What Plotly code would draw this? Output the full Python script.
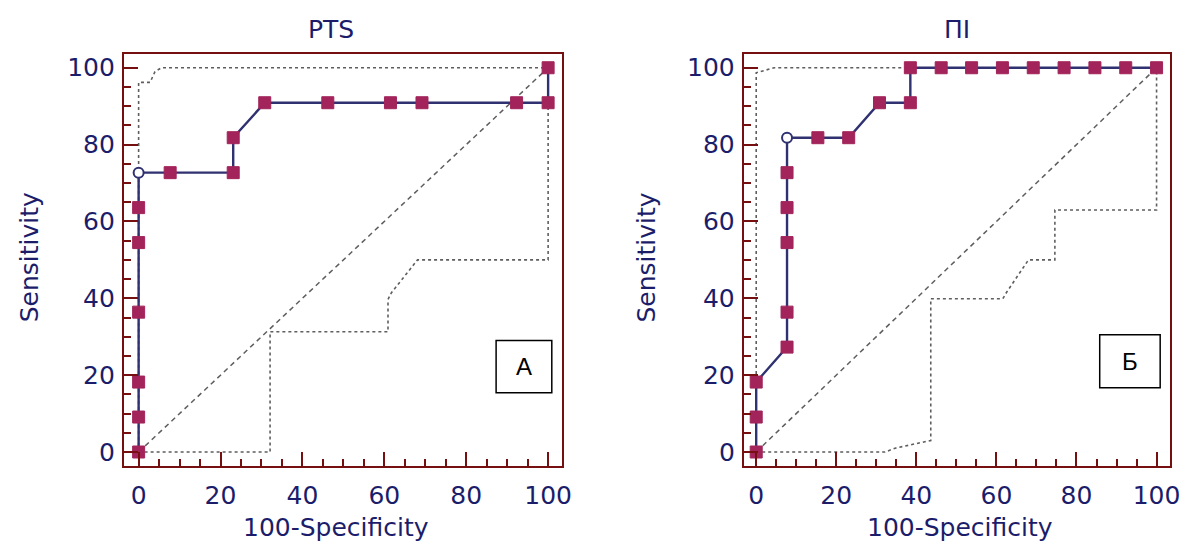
import plotly.graph_objects as go

# ---------------- data ----------------
# Panel A: PTS  (x = 100-Specificity, y = Sensitivity)
pts_fpr = [0, 0, 0, 0, 0, 0, 0, 7.7, 23.1, 23.1, 30.8, 46.2, 61.5, 69.2, 92.3, 100, 100]
pts_sens = [0, 9.1, 18.2, 36.4, 54.5, 63.6, 72.7, 72.7, 72.7, 81.8, 90.9, 90.9, 90.9, 90.9, 90.9, 90.9, 100]
pts_opt_idx = 6
pts_upper_x = [0, 0, 2.8, 4.0, 5.6, 100]
pts_upper_y = [0, 96.2, 96.2, 99.0, 100, 100]
pts_lower_x = [0, 32.1, 32.1, 60.9, 60.9, 61.7, 68.1, 100, 100]
pts_lower_y = [0, 0, 31.3, 31.3, 39.7, 41.4, 50, 50, 100]

# Panel Б: ПІ
pi_fpr = [0, 0, 0, 7.7, 7.7, 7.7, 7.7, 7.7, 7.7, 15.4, 23.1, 30.8, 38.5, 38.5,
          46.2, 53.8, 61.5, 69.2, 76.9, 84.6, 92.3, 100]
pi_sens = [0, 9.1, 18.2, 27.3, 36.4, 54.5, 63.6, 72.7, 81.8, 81.8, 81.8, 90.9, 90.9, 100,
           100, 100, 100, 100, 100, 100, 100, 100]
pi_opt_idx = 8
pi_upper_x = [0, 0, 4.5, 100]
pi_upper_y = [0, 98.7, 100, 100]
pi_lower_x = [0, 32.2, 34.7, 43.6, 43.6, 61.6, 62.5, 68.0, 74.6, 74.6, 100, 100]
pi_lower_y = [0, 0, 1.0, 3.0, 39.9, 39.9, 41.5, 50, 50, 63, 63, 100]

diag = [0, 100]
tick_vals = [0, 20, 40, 60, 80, 100]

titles = ["PTS", "ПІ"]
panel_letters = ["A", "Б"]
x_title = "100-Specificity"
y_title = "Sensitivity"

# ---------------- style ----------------
MAROON = "#761010"
NAVY = "#1c1d6a"
LINE = "#2f3170"
MARK = "#a2245a"
GRAY = "#5e5e5e"
FONT = "DejaVu Sans"
FS = 25

fig = go.Figure()

panels = [
    (pts_fpr, pts_sens, pts_opt_idx, pts_upper_x, pts_upper_y, pts_lower_x, pts_lower_y, "x", "y"),
    (pi_fpr, pi_sens, pi_opt_idx, pi_upper_x, pi_upper_y, pi_lower_x, pi_lower_y, "x2", "y2"),
]

for fx, sy, opt, ux, uy, lx, ly, xa, ya in panels:
    fig.add_trace(go.Scatter(x=diag, y=diag, mode="lines", xaxis=xa, yaxis=ya,
                             line=dict(color=GRAY, width=1.5, dash="5px,4px"), hoverinfo="skip"))
    fig.add_trace(go.Scatter(x=ux, y=uy, mode="lines", xaxis=xa, yaxis=ya,
                             line=dict(color=GRAY, width=1.6, dash="3px,3px"), hoverinfo="skip"))
    fig.add_trace(go.Scatter(x=lx, y=ly, mode="lines", xaxis=xa, yaxis=ya,
                             line=dict(color=GRAY, width=1.6, dash="3px,3px"), hoverinfo="skip"))
    symbols = ["circle" if i == opt else "square" for i in range(len(fx))]
    fills = ["white" if i == opt else MARK for i in range(len(fx))]
    sizes = [10 if i == opt else 12 for i in range(len(fx))]
    lcols = [LINE if i == opt else MARK for i in range(len(fx))]
    lwid = [2 if i == opt else 1 for i in range(len(fx))]
    fig.add_trace(go.Scatter(x=fx, y=sy, mode="lines+markers", xaxis=xa, yaxis=ya,
                             line=dict(color=LINE, width=2.4),
                             marker=dict(symbol=symbols, color=fills, size=sizes, opacity=1,
                                         line=dict(color=lcols, width=lwid))))

axis_common = dict(
    showgrid=False, zeroline=False, showline=True, mirror=True,
    linecolor=MAROON, linewidth=2,
    ticks="inside", ticklen=14, tickwidth=2, tickcolor=MAROON,
    tickmode="array", tickvals=tick_vals,
    tickfont=dict(family=FONT, size=FS, color=NAVY),
    minor=dict(ticks="inside", ticklen=7, tickwidth=2, tickcolor=MAROON,
               dtick=5, tick0=0, showgrid=False),
    fixedrange=True,
)

fig.update_layout(
    width=1192, height=544,
    margin=dict(l=0, r=0, t=0, b=0),
    paper_bgcolor="white", plot_bgcolor="white",
    showlegend=False,
    xaxis=dict(domain=[0.1049, 0.4759], range=[-3.6, 103.4], anchor="y",
               ticklabelstandoff=6, **axis_common),
    yaxis=dict(domain=[0.1421, 0.9007], range=[-3.6, 103.6], anchor="x",
               ticklabelstandoff=2, **axis_common),
    xaxis2=dict(domain=[0.6298, 0.9905], range=[-3.1, 103.3], anchor="y2",
                ticklabelstandoff=6, **axis_common),
    yaxis2=dict(domain=[0.1421, 0.9007], range=[-3.6, 103.6], anchor="x2",
                ticklabelstandoff=2, **axis_common),
)

ann = []
# subplot titles
for t, xc in zip(titles, [334 / 1192, 966 / 1192]):
    ann.append(dict(text=t, x=xc, y=(544 - 30) / 544, xref="paper", yref="paper",
                    showarrow=False, xanchor="center", yanchor="middle",
                    font=dict(family=FONT, size=FS, color=NAVY)))
# axis titles
for xc in [339 / 1192, 969 / 1192]:
    ann.append(dict(text=x_title, x=xc, y=(544 - 528) / 544, xref="paper", yref="paper",
                    showarrow=False, xanchor="center", yanchor="middle",
                    font=dict(family=FONT, size=FS, color=NAVY)))
for xc in [30 / 1192, 653 / 1192]:
    ann.append(dict(text=y_title, x=xc, y=(544 - 258) / 544, xref="paper", yref="paper",
                    showarrow=False, xanchor="center", yanchor="middle", textangle=-90,
                    font=dict(family=FONT, size=FS, color=NAVY)))

# letter boxes
boxes = [("x", "y", 87.3, 100.9, 15.4, 29.0), ("x2", "y2", 85.8, 100.9, 16.7, 30.5)]
shapes = []
for (xr, yr, x0, x1, y0, y1), letter in zip(boxes, panel_letters):
    shapes.append(dict(type="rect", xref=xr, yref=yr, x0=x0, x1=x1, y0=y0, y1=y1,
                       line=dict(color="black", width=1.5), fillcolor="white", layer="above"))
    ann.append(dict(text=letter, x=(x0 + x1) / 2, y=(y0 + y1) / 2, xref=xr, yref=yr,
                    showarrow=False, xanchor="center", yanchor="middle",
                    font=dict(family="Liberation Sans", size=24, color="black")))

fig.update_layout(annotations=ann, shapes=shapes)

fig.write_html("out.html")
